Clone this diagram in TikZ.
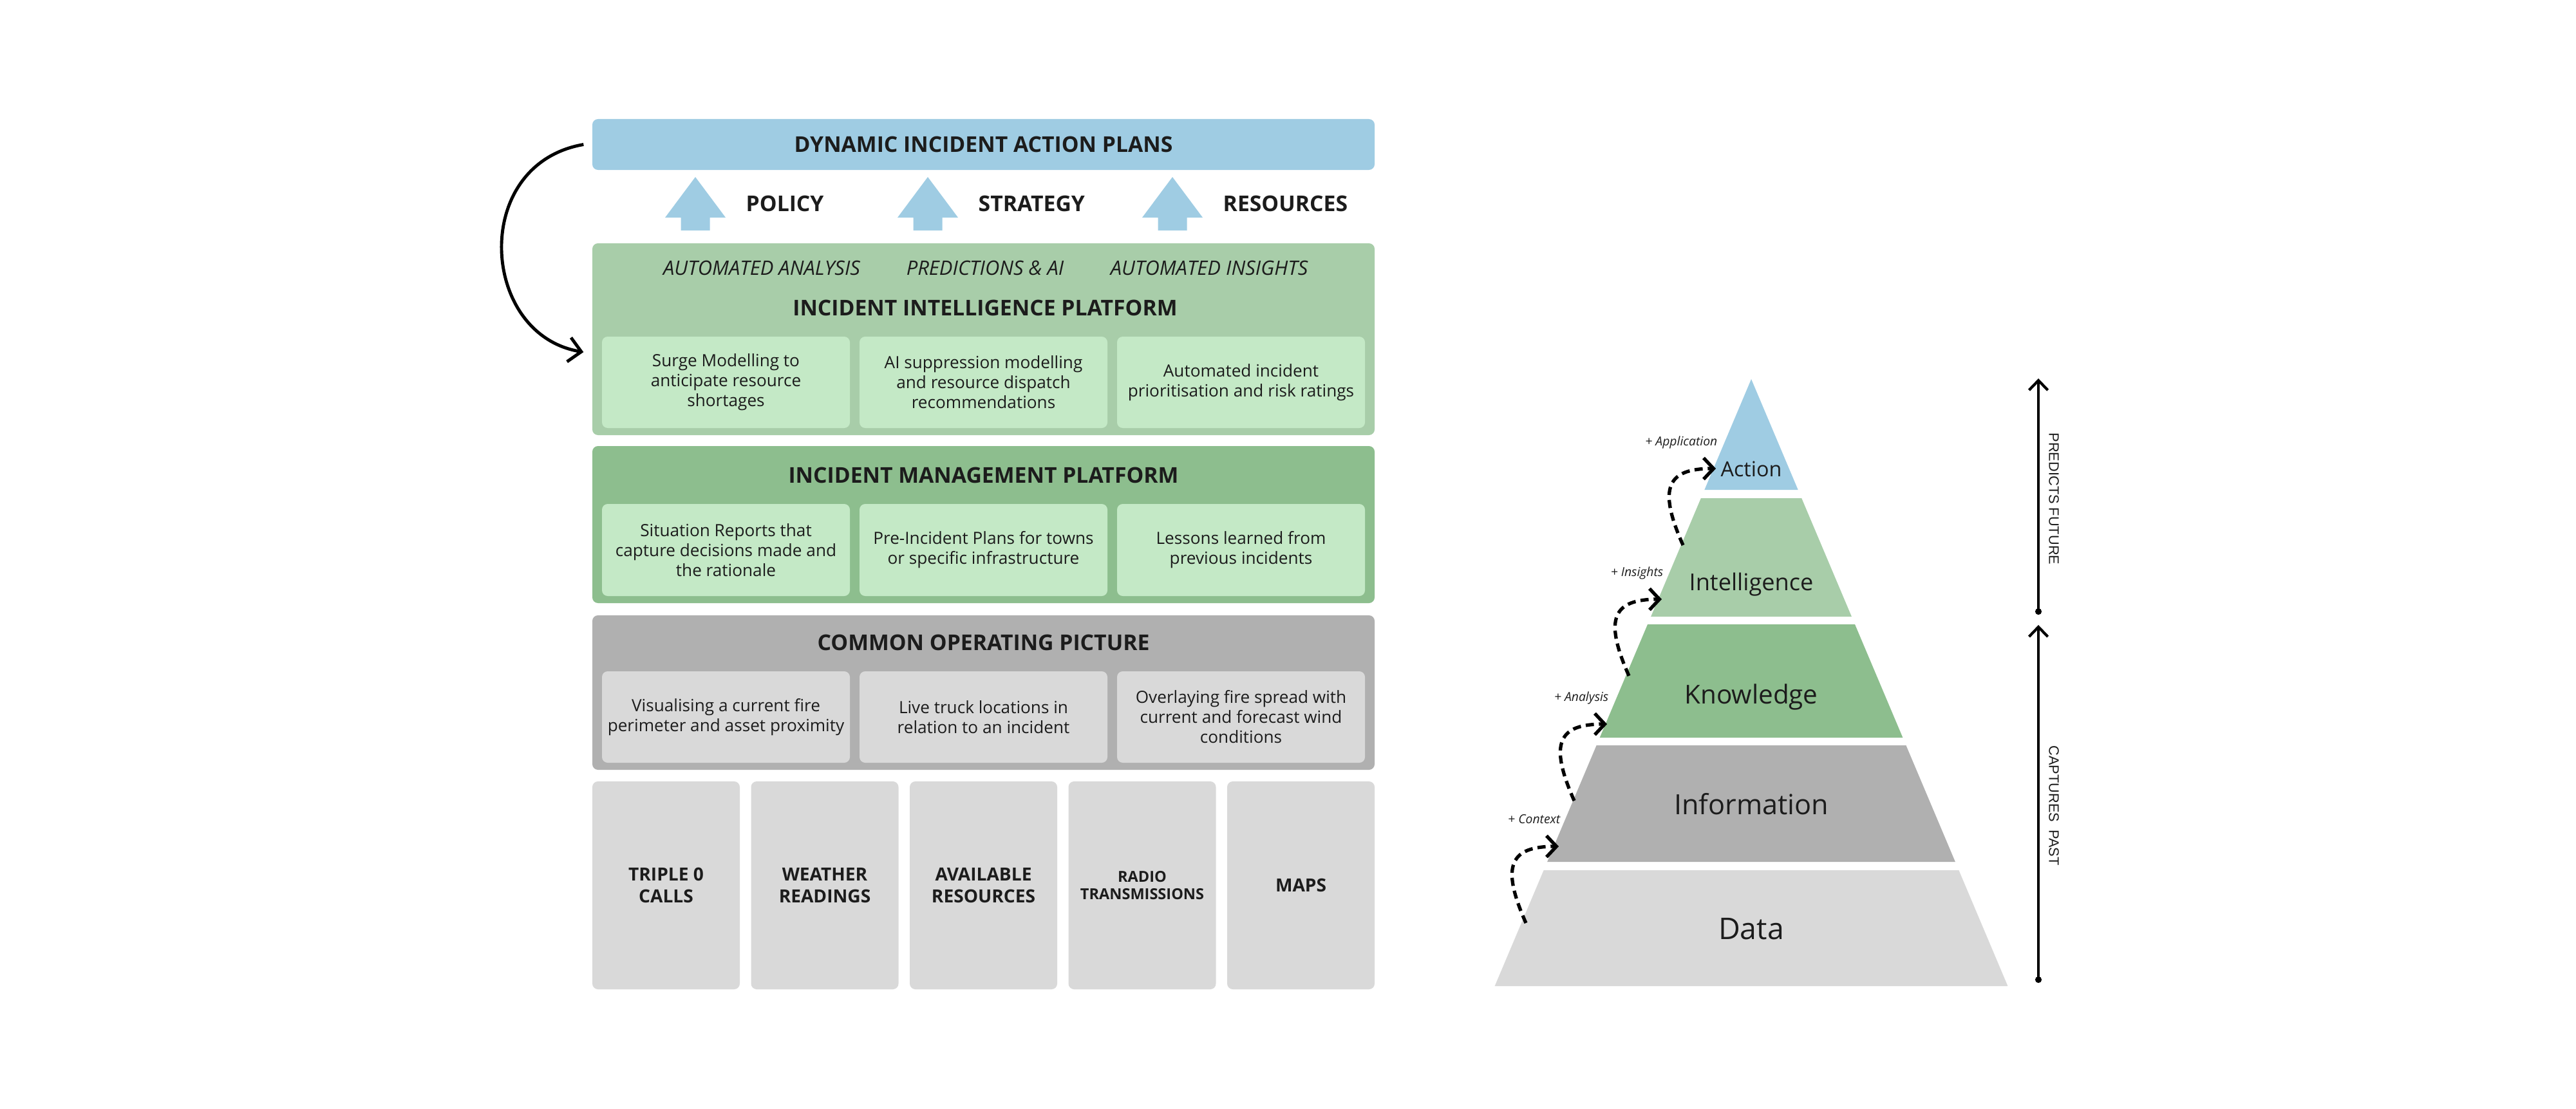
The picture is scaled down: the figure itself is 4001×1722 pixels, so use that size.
\documentclass[tikz,border=0pt]{standalone}
\usepackage{fontspec}
\setmainfont{Open Sans}
\newfontfamily\axisfont{Liberation Sans}
\usetikzlibrary{arrows.meta,positioning}

\definecolor{planblue}{HTML}{9FCCE3}
\definecolor{intelgreen}{HTML}{A8CDA9}
\definecolor{mgmtgreen}{HTML}{8DBE8E}
\definecolor{palegreen}{HTML}{C4E9C6}
\definecolor{copgrey}{HTML}{B0B0B0}
\definecolor{palegrey}{HTML}{D9D9D9}
\definecolor{inktext}{HTML}{1C1C1C}

\begin{document}
\begin{tikzpicture}[x=0.1mm, y=-0.1mm,
  every node/.style = {inner sep=0pt, align=center, text=inktext},
  layerbox/.style = {rounded corners=2.5pt, minimum width=121.5mm},
  cardbox/.style = {rounded corners=2.5pt, minimum width=38.5mm, minimum height=14.2mm,
    font=\fontsize{7.45}{8.8}\selectfont},
  sourcebox/.style = {fill=palegrey, rounded corners=2.5pt, minimum width=22.9mm,
    minimum height=32.3mm, font=\bfseries\fontsize{8}{9.7}\selectfont},
  heading/.style = {font=\bfseries\fontsize{9.6}{11}\selectfont},
  tagline/.style = {font=\itshape\fontsize{8.8}{10}\selectfont},
  tierlabel/.style = {anchor=base},
  steptag/.style = {anchor=base east, font=\itshape\fontsize{5.5}{6}\selectfont},
  stepflow/.style = {line width=1.5pt, dash pattern=on 3.6pt off 2.2pt,
    -{Straight Barb[length=4.4pt,width=9.4pt]}},
  loopback/.style = {line width=1.4pt, -{Straight Barb[length=5.5pt,width=10.8pt]}},
  axisline/.style = {line width=1.2pt, {Circle[length=2.8pt]}-{Straight Barb[length=4.3pt,width=8.3pt]}},
  axislabel/.style = {rotate=-90, font=\axisfont\fontsize{6.2}{7}\selectfont}]

\useasboundingbox (0,0) rectangle (4001,1722);

% action plans and what feeds them
\node[layerbox, fill=planblue, minimum height=7.9mm, heading] (plans) at (1527.5,224.5) {DYNAMIC INCIDENT ACTION PLANS};
\foreach \cx/\name/\txt in {1080/policy/POLICY, 1441/strategy/STRATEGY, 1821/resources/RESOURCES} {
  \fill[planblue] (\cx,275) -- (\cx+47,338) -- (\cx+22.5,338) -- (\cx+22.5,358)
    -- (\cx-22.5,358) -- (\cx-22.5,338) -- (\cx-47,338) -- cycle;
  \node[heading, anchor=west] (\name) at (\cx+78,316.5) {\txt};
}

% intelligence platform
\node[layerbox, fill=intelgreen, minimum height=29.8mm] (intel) at (1527.5,527) {};
\node[tagline] (analysis-tag) at (1183,416) {AUTOMATED ANALYSIS};
\node[tagline] (predict-tag) at (1530,416) {PREDICTIONS \& AI};
\node[tagline] (insight-tag) at (1878,416) {AUTOMATED INSIGHTS};
\node[heading] (intel-title) at (1530,478) {INCIDENT INTELLIGENCE PLATFORM};
\node[cardbox, fill=palegreen] (surge) at (1127.5,594) {Surge Modelling to\\anticipate resource\\shortages};
\node[cardbox, fill=palegreen] (suppress) at (1527.5,594) {AI suppression modelling\\and resource dispatch\\recommendations};
\node[cardbox, fill=palegreen] (prioritise) at (1927.5,594) {Automated incident\\prioritisation and risk ratings};

% management platform
\node[layerbox, fill=mgmtgreen, minimum height=24.4mm] (manage) at (1527.5,815) {};
\node[heading] (manage-title) at (1527.5,738) {INCIDENT MANAGEMENT PLATFORM};
\node[cardbox, fill=palegreen, minimum height=14.3mm] (sitrep) at (1127.5,854.5) {Situation Reports that\\capture decisions made and\\the rationale};
\node[cardbox, fill=palegreen, minimum height=14.3mm] (preplan) at (1527.5,854.5) {Pre-Incident Plans for towns\\or specific infrastructure};
\node[cardbox, fill=palegreen, minimum height=14.3mm] (lessons) at (1927.5,854.5) {Lessons learned from\\previous incidents};

% common operating picture
\node[layerbox, fill=copgrey, minimum height=24mm] (cop) at (1527.5,1076) {};
\node[heading] (cop-title) at (1527.5,998) {COMMON OPERATING PICTURE};
\node[cardbox, fill=palegrey] (perimeter) at (1127.5,1114) {Visualising a current fire\\perimeter and asset proximity};
\node[cardbox, fill=palegrey] (trucks) at (1527.5,1114) {Live truck locations in\\relation to an incident};
\node[cardbox, fill=palegrey] (spread) at (1927.5,1114) {Overlaying fire spread with\\current and forecast wind\\conditions};

% raw sources
\node[sourcebox] (calls) at (1034.5,1375.5) {TRIPLE 0\\CALLS};
\node[sourcebox] (weather) at (1281,1375.5) {WEATHER\\READINGS};
\node[sourcebox] (avail) at (1527.5,1375.5) {AVAILABLE\\RESOURCES};
\node[sourcebox, font=\bfseries\fontsize{6.7}{7.7}\selectfont] (radio) at (1774,1375.5) {RADIO\\TRANSMISSIONS};
\node[sourcebox] (maps) at (2020.5,1375.5) {MAPS};

\draw[loopback] ([xshift=-1.3mm]plans.west) .. controls (730,255) and (745,520) .. ([xshift=-1.3mm,yshift=-2mm]intel.west);

% pyramid
\foreach \ytop/\ybot/\tint in {589/761/planblue, 774/958/intelgreen, 970/1146/mgmtgreen, 1158/1339/copgrey, 1352/1532/palegrey}
  \fill[\tint] ({2720-0.4225*(\ytop-589)},\ytop) -- ({2720+0.4225*(\ytop-589)},\ytop)
    -- ({2720+0.4225*(\ybot-589)},\ybot) -- ({2720-0.4225*(\ybot-589)},\ybot) -- cycle;
\node[tierlabel, font=\fontsize{9.2}{11}\selectfont] (action) at (2720,740) {Action};
\node[tierlabel, font=\fontsize{10.3}{12}\selectfont] (intelligence) at (2720,917) {Intelligence};
\node[tierlabel, font=\fontsize{11.5}{13}\selectfont] (knowledge) at (2720,1093) {Knowledge};
\node[tierlabel, font=\fontsize{12.3}{14}\selectfont] (information) at (2720,1265) {Information};
\node[tierlabel, font=\fontsize{13.2}{15}\selectfont] (data) at (2720,1459) {Data};

\foreach \name/\sx/\sy/\txt in {context/2370/1434/Context, analysis/2445/1244/Analysis,
    insights/2530/1050/Insights, application/2614/847/Application} {
  \coordinate (\name-from) at (\sx,\sy);
  \coordinate (\name-to) at (\sx+51,\sy-119);
  \draw[stepflow] (\name-from) .. controls +(-40,-90) and +(-75,0) .. (\name-to);
  \node[steptag] (\name-tag) at ([shift={(3,-36)}]\name-to) {+ \txt};
}

% time axis
\coordinate (future-top) at (3166,588);
\coordinate (future-base) at (3166,955);
\coordinate (past-top) at (3166,971);
\coordinate (past-base) at (3166,1527);
\draw[axisline] (future-base) -- (future-top);
\draw[axisline] (past-base) -- (past-top);
\node[axislabel] (future-lab) at (3190,775) {PREDICTS FUTURE};
\node[axislabel] (past-lab) at (3190,1251.5) {CAPTURES\ \ PAST};
\end{tikzpicture}
\end{document}
